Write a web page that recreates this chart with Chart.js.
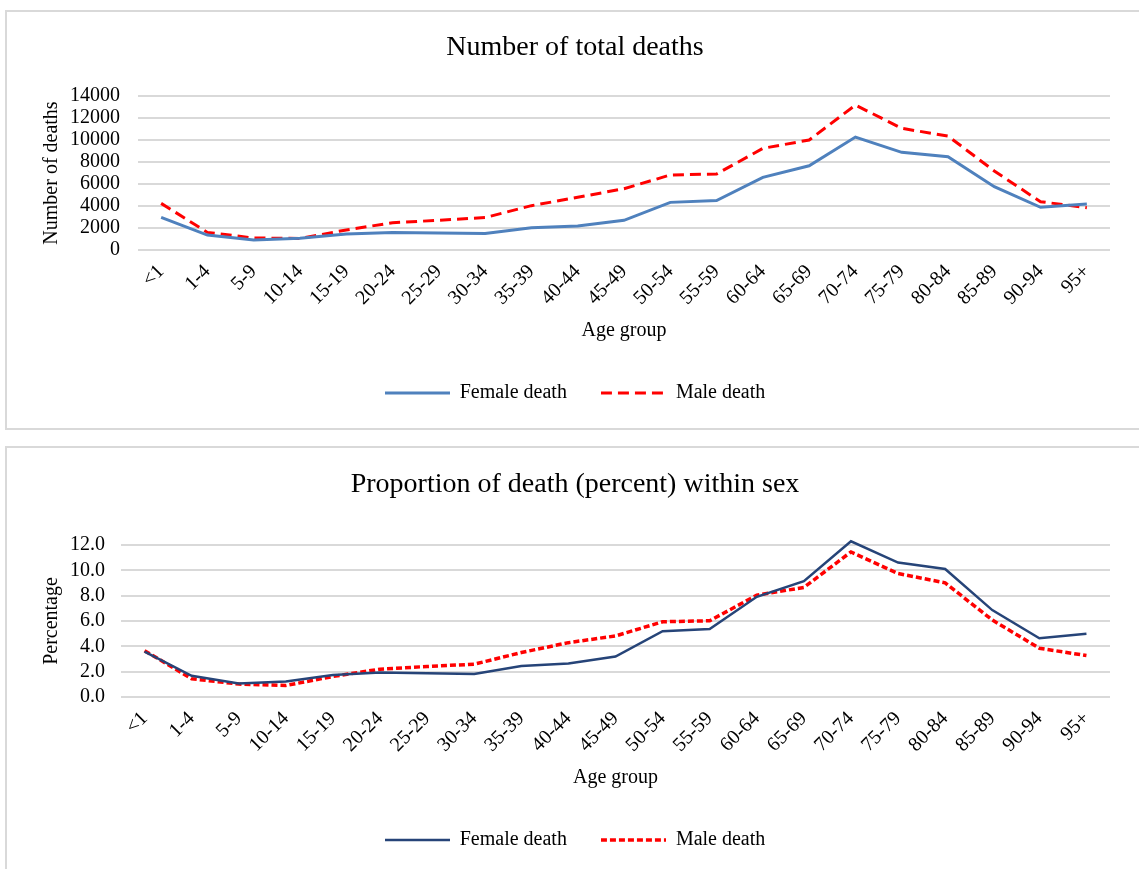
<!DOCTYPE html>
<html>
<head>
<meta charset="utf-8">
<title>Deaths by age group</title>
<script src="https://cdn.jsdelivr.net/npm/chart.js@4"></script>
<style>
  body { margin: 0; background: #fff; width: 1139px; height: 869px; overflow: hidden; position: relative; }
  .box { position: absolute; left: 5px; width: 1200px; border: 2px solid #d9d9d9; }
  #box-one { top: 10px; height: 416px; }
  #box-two { top: 446px; height: 500px; }
  canvas { position: absolute; left: 0; }
  #chart-one { top: 0; }
  #chart-two { top: 437px; }
</style>
</head>
<body>
<div class="box" id="box-one"></div>
<div class="box" id="box-two"></div>
<canvas id="chart-one" width="1139" height="430"></canvas>
<canvas id="chart-two" width="1139" height="432"></canvas>
<script>
'use strict';

/// GLOBAL VARIABLES
let ageGroups = ['<1', '1-4', '5-9', '10-14', '15-19', '20-24', '25-29', '30-34', '35-39', '40-44', '45-49',
  '50-54', '55-59', '60-64', '65-69', '70-74', '75-79', '80-84', '85-89', '90-94', '95+'];

// number of deaths
let femaleDeaths = [2970, 1360, 900, 1060, 1450, 1600, 1550, 1490, 2030, 2180, 2700,
  4330, 4500, 6600, 7660, 10270, 8880, 8480, 5760, 3880, 4180];
let maleDeaths = [4240, 1600, 1090, 1050, 1820, 2480, 2700, 2950, 4030, 4790, 5570,
  6820, 6910, 9240, 10000, 13180, 11060, 10360, 7180, 4390, 3850];

// percent within sex
let femalePercent = [3.58, 1.67, 1.07, 1.23, 1.73, 1.93, 1.88, 1.81, 2.44, 2.65, 3.19,
  5.19, 5.37, 7.91, 9.14, 12.29, 10.61, 10.11, 6.86, 4.64, 5.0];
let malePercent = [3.66, 1.44, 1.02, 0.91, 1.62, 2.2, 2.41, 2.59, 3.51, 4.29, 4.82,
  5.94, 6.02, 8.04, 8.65, 11.45, 9.75, 9.01, 6.08, 3.85, 3.27];

// y axis ticks
let deathTicks = [0, 2000, 4000, 6000, 8000, 10000, 12000, 14000];
let percentTicks = [0, 2, 4, 6, 8, 10, 12];

let fontFamily = '"Liberation Serif", "Times New Roman", serif';
let textColor = '#000000';
let gridColor = '#d9d9d9';

Chart.defaults.font.family = fontFamily;
Chart.defaults.color = textColor;

// HELPER FUNCTIONS

// small canvas with the line sample so the legend can show the dashes
function legendLine(color, width, dash) {
  let c = document.createElement('canvas');
  c.width = 65;
  c.height = 8;
  let ctx = c.getContext('2d');
  ctx.strokeStyle = color;
  ctx.lineWidth = width;
  ctx.setLineDash(dash);
  ctx.beginPath();
  ctx.moveTo(0, 4);
  ctx.lineTo(65, 4);
  ctx.stroke();
  return c;
}

function makeOptions(cfg) {
  return {
    responsive: false,
    animation: false,
    layout: { padding: { left: 40, right: 29, top: 0, bottom: cfg.padBottom } },
    plugins: {
      title: {
        display: true,
        text: cfg.title,
        color: textColor,
        font: { size: 28, weight: 'normal' },
        padding: { top: 31.2, bottom: cfg.titleBottom },
      },
      legend: {
        position: 'bottom',
        labels: {
          usePointStyle: true,
          pointStyleWidth: 65,
          padding: 34,
          color: textColor,
          font: { size: 20 },
          generateLabels: function (chart) {
            let items = Chart.defaults.plugins.legend.labels.generateLabels(chart);
            items.forEach(function (item, i) {
              let ds = chart.data.datasets[i];
              item.pointStyle = legendLine(ds.borderColor, ds.borderWidth, ds.borderDash || []);
            });
            return items;
          },
        },
      },
      tooltip: { enabled: false },
    },
    scales: {
      x: {
        offset: true,
        grid: { display: false },
        border: { display: false },
        ticks: {
          autoSkip: false,
          minRotation: 45,
          maxRotation: 45,
          padding: 2,
          color: textColor,
          font: { size: 20 },
        },
        title: {
          display: true,
          text: 'Age group',
          color: textColor,
          font: { size: 20 },
          padding: { top: 0, bottom: 6 },
        },
        afterFit: function (scale) {
          scale.height = 99;
        },
      },
      y: {
        min: 0,
        max: cfg.ticks[cfg.ticks.length - 1],
        afterBuildTicks: function (scale) {
          scale.ticks = cfg.ticks.map(function (v) { return { value: v }; });
        },
        grid: { color: gridColor, lineWidth: 2, drawTicks: false },
        border: { display: false },
        ticks: {
          autoSkip: false,
          padding: cfg.tickPad,
          color: textColor,
          font: { size: 20 },
          callback: cfg.fmt,
        },
        title: {
          display: true,
          text: cfg.yTitle,
          color: textColor,
          font: { size: 20 },
          padding: { top: 0, bottom: 0 },
        },
        afterFit: function (scale) {
          scale.width = cfg.yWidth;
        },
      },
    },
  };
}

// CHART ONE - TOTAL DEATHS
new Chart(document.getElementById('chart-one').getContext('2d'), {
  type: 'line',
  data: {
    labels: ageGroups,
    datasets: [
      {
        label: 'Female death',
        data: femaleDeaths,
        borderColor: '#4f81bd',
        backgroundColor: '#4f81bd',
        borderWidth: 3,
        pointRadius: 0,
        tension: 0,
      },
      {
        label: 'Male death',
        data: maleDeaths,
        borderColor: '#ff0000',
        backgroundColor: '#ff0000',
        borderWidth: 3,
        borderDash: [11, 6],
        pointRadius: 0,
        tension: 0,
      },
    ],
  },
  options: makeOptions({
    title: 'Number of total deaths',
    titleBottom: 31.2,
    padBottom: 17,
    ticks: deathTicks,
    tickPad: 18,
    yWidth: 98,
    yTitle: 'Number of deaths',
    fmt: function (v) { return String(v); },
  }),
});

// CHART TWO - PERCENT WITHIN SEX
new Chart(document.getElementById('chart-two').getContext('2d'), {
  type: 'line',
  data: {
    labels: ageGroups,
    datasets: [
      {
        label: 'Female death',
        data: femalePercent,
        borderColor: '#264478',
        backgroundColor: '#264478',
        borderWidth: 2.5,
        pointRadius: 0,
        tension: 0,
        clip: false,
      },
      {
        label: 'Male death',
        data: malePercent,
        borderColor: '#ff0000',
        backgroundColor: '#ff0000',
        borderWidth: 3.5,
        borderDash: [6, 3],
        pointRadius: 0,
        tension: 0,
        clip: false,
      },
    ],
  },
  options: makeOptions({
    title: 'Proportion of death (percent) within sex',
    titleBottom: 43.2,
    padBottom: 9,
    ticks: percentTicks,
    tickPad: 16,
    yWidth: 81,
    yTitle: 'Percentage',
    fmt: function (v) { return Number(v).toFixed(1); },
  }),
});
</script>
</body>
</html>
